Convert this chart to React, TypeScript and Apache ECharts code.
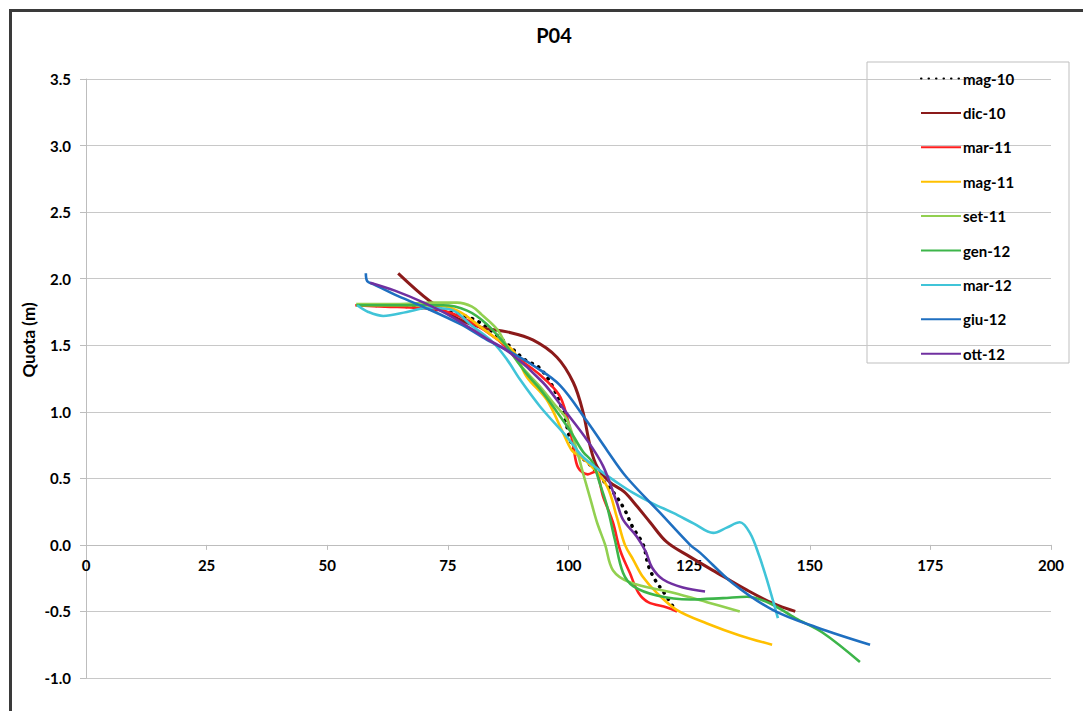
import React, { useEffect, useRef } from "react";
import * as echarts from "echarts";

const seriesNames = ["mag-10", "dic-10", "mar-11", "mag-11", "set-11", "gen-12", "mar-12", "giu-12", "ott-12"];
const seriesColors = ["#000000", "#8B1A1A", "#FF1F1F", "#FFC000", "#92D050", "#3DB54A", "#40C4D8", "#1F6FC0", "#7030A0"];

const yTicks = [-1.0, -0.5, 0.0, 0.5, 1.0, 1.5, 2.0, 2.5, 3.0, 3.5];
const xTicks = [0, 25, 50, 75, 100, 125, 150, 175, 200];

const mag10 = [[57,1.80],[70,1.78],[80,1.70],[86,1.55],[91,1.39],[94,1.33],[97,1.17],[99,0.98],[100.7,0.75],[102,0.68],[104.5,0.60],[107.5,0.47],[109.6,0.38],[111.7,0.26],[113.2,0.14],[115.5,0.0],[116.5,-0.15],[117.9,-0.26],[120,-0.37],[122.3,-0.50]];
const dic10 = [[64.7,2.04],[71.3,1.83],[77,1.70],[82.3,1.63],[87.3,1.60],[92.6,1.54],[97.6,1.41],[101,1.22],[103,1.0],[104.5,0.74],[105.9,0.59],[108.6,0.47],[111.5,0.40],[114.2,0.29],[116.9,0.17],[120.4,0.02],[125.2,-0.09],[130.8,-0.21],[137,-0.34],[142.4,-0.44],[147,-0.50]];
const mar11 = [[55.8,1.80],[62,1.79],[69,1.78],[75,1.75],[80,1.67],[85,1.55],[89.3,1.41],[94,1.28],[98,1.13],[99.7,0.96],[101,0.74],[102,0.58],[104,0.53],[105.5,0.55],[107.2,0.36],[109.2,0.17],[110.7,-0.04],[112.7,-0.21],[114.5,-0.36],[116.5,-0.43],[120.4,-0.47],[122.5,-0.50]];
const mag11 = [[56,1.80],[65,1.80],[72,1.80],[77,1.76],[81.7,1.64],[85,1.55],[88.5,1.46],[91.4,1.26],[95.5,1.09],[98.9,0.84],[100.7,0.71],[102.5,0.66],[104.5,0.60],[108,0.44],[110,0.21],[111.7,0.0],[113.4,-0.11],[115.4,-0.24],[118.3,-0.36],[122.5,-0.49],[128.7,-0.59],[135.5,-0.68],[142.2,-0.75]];
const set11 = [[56,1.81],[65,1.81],[72,1.82],[76.9,1.82],[80,1.79],[82,1.73],[85.2,1.62],[87.3,1.49],[90,1.35],[94.1,1.19],[97,1.06],[99.7,0.94],[101.5,0.74],[103,0.54],[104.5,0.35],[105.9,0.17],[107.6,0.0],[109.2,-0.19],[112.7,-0.28],[121.7,-0.36],[128.7,-0.43],[135.5,-0.50]];
const gen12 = [[56,1.80],[65,1.80],[74,1.80],[79,1.76],[83,1.66],[87,1.50],[91,1.30],[94.1,1.17],[97,1.03],[100.3,0.86],[103,0.70],[105,0.62],[106.5,0.46],[108,0.29],[109.6,0.04],[111.3,-0.21],[113.4,-0.31],[118.3,-0.38],[125.2,-0.41],[132,-0.40],[137,-0.39],[141.8,-0.44],[147,-0.55],[152.7,-0.66],[160.4,-0.88]];
const mar12 = [[56.2,1.80],[58.5,1.75],[61.6,1.72],[66.5,1.75],[70.7,1.78],[75.4,1.77],[80.2,1.64],[84.4,1.52],[87.3,1.39],[90,1.24],[94.1,1.04],[99.7,0.81],[103,0.66],[106.5,0.56],[110,0.47],[113.4,0.39],[117.5,0.31],[121.7,0.24],[126,0.16],[130,0.09],[132.8,0.13],[135.5,0.17],[137.6,0.09],[139.5,-0.08],[141.1,-0.26],[143.4,-0.55]];
const giu12 = [[58,2.04],[58.3,1.98],[59.5,1.96],[64,1.88],[69.8,1.79],[77.5,1.66],[83.1,1.54],[87.9,1.45],[93,1.34],[98.2,1.20],[103.8,0.93],[108,0.71],[112,0.51],[119,0.24],[125.2,0.0],[127.3,-0.06],[134.1,-0.29],[142.4,-0.49],[151.5,-0.62],[162.5,-0.75]];
const ott12 = [[58.9,1.97],[64,1.91],[70,1.82],[76,1.71],[83,1.55],[88,1.44],[94.7,1.22],[99,1.02],[103.8,0.79],[107.2,0.59],[110,0.32],[111.3,0.19],[114.2,0.06],[116,-0.05],[117.3,-0.17],[119.6,-0.26],[123.7,-0.32],[128.3,-0.35]];

const seriesData = [mag10, dic10, mar11, mag11, set11, gen12, mar12, giu12, ott12];

const FONT = "Lato";
const Y_MIN = -1;
const Y_MAX = 3.5;
const GRID_TOP = 79;
const GRID_BOTTOM = 33;
const CHART_H = 711;

export default function App() {
  const ref = useRef<HTMLDivElement>(null);
  useEffect(() => {
    if (!ref.current) return;
    const chart = echarts.init(ref.current, undefined, { renderer: "svg" });
    const gridHeight = CHART_H - GRID_TOP - GRID_BOTTOM;
    const zeroOffset = -gridHeight * (0 - Y_MIN) / (Y_MAX - Y_MIN);
    const series = seriesNames.map((name, i) => ({
      name,
      type: "line",
      data: seriesData[i],
      smooth: 0.35,
      showSymbol: false,
      symbol: "none",
      color: seriesColors[i],
      lineStyle: i === 0
        ? { color: "#000", width: 3.5, type: [0.5, 7], cap: "round" }
        : { color: seriesColors[i], width: i === 1 ? 3 : 2.6 },
      z: 2 + i,
    }));
    chart.setOption({
      animation: false,
      backgroundColor: "#fff",
      title: {
        text: "P04",
        left: 549,
        top: 20,
        textAlign: "center",
        textStyle: { fontFamily: FONT, fontWeight: "bold", fontSize: 20, color: "#000" },
      },
      grid: { left: 86, right: 32, top: GRID_TOP, bottom: GRID_BOTTOM },
      legend: {
        orient: "vertical",
        left: 915,
        top: 66,
        itemWidth: 40,
        itemHeight: 14,
        itemGap: 19.4,
        data: seriesNames,
        itemStyle: { opacity: 0 },
        textStyle: { fontFamily: FONT, fontWeight: "bold", fontSize: 15, color: "#000", padding: [0, 0, 0, -3] },
      },
      xAxis: {
        type: "value",
        min: 0,
        max: 200,
        interval: 25,
        position: "bottom",
        offset: zeroOffset,
        axisLine: { onZero: false, lineStyle: { color: "#bdbdbd", width: 1 } },
        axisTick: { show: true, length: 5, lineStyle: { color: "#bdbdbd" } },
        axisLabel: {
          margin: 13,
          fontFamily: FONT,
          fontWeight: "bold",
          fontSize: 15,
          color: "#000",
          formatter: (v: number) => (xTicks.includes(v) ? String(v) : ""),
        },
        splitLine: { show: false },
      },
      yAxis: {
        type: "value",
        min: Y_MIN,
        max: Y_MAX,
        interval: 0.5,
        axisLine: { show: true, onZero: false, lineStyle: { color: "#bdbdbd", width: 1 } },
        axisTick: { show: true, length: 6, lineStyle: { color: "#bdbdbd" } },
        axisLabel: {
          margin: 15,
          fontFamily: FONT,
          fontWeight: "bold",
          fontSize: 15,
          color: "#000",
          formatter: (v: number) => (yTicks.some((t) => Math.abs(t - v) < 1e-9) ? v.toFixed(1) : ""),
        },
        splitLine: { show: true, lineStyle: { color: "#c8c8c8", width: 1 } },
      },
      graphic: [
        { type: "rect", shape: { x: 867, y: 62, width: 202, height: 301 }, style: { fill: "none", stroke: "#bfbfbf", lineWidth: 1 }, z: 0 },
        { type: "line", shape: { x1: 9, y1: 10.5, x2: 1083, y2: 10.5 }, style: { stroke: "#3a3a3a", lineWidth: 3 } },
        { type: "line", shape: { x1: 10.5, y1: 9, x2: 10.5, y2: 711 }, style: { stroke: "#3a3a3a", lineWidth: 3 } },
        {
          type: "text",
          x: 28,
          y: 340,
          rotation: Math.PI / 2,
          style: { text: "Quota (m)", fontFamily: FONT, fontWeight: "bold", fontSize: 17, fill: "#000", align: "center", verticalAlign: "middle" },
        },
      ],
      series,
    });
    return () => chart.dispose();
  }, []);
  return <div ref={ref} style={{ position: "fixed", left: 0, top: 0, width: 1083, height: 711 }} />;
}
